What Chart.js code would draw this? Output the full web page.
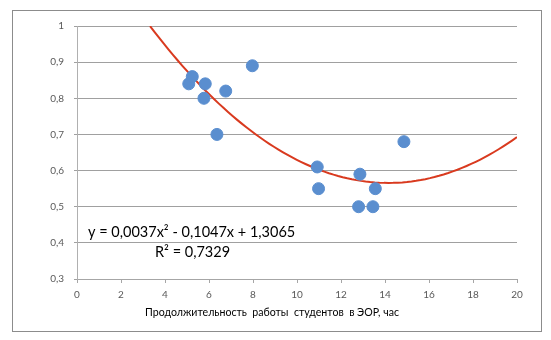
<!DOCTYPE html>
<html><head><meta charset="utf-8">
<script src="https://cdn.jsdelivr.net/npm/chart.js@4/dist/chart.umd.min.js"></script>
<style>html,body{margin:0;padding:0;background:#fff}#wrap{width:551px;height:340px;position:relative}</style>
</head><body><div id="wrap"><canvas id="c" width="551" height="340"></canvas></div>
<script>
const hoursX = [5.08, 5.24, 5.83, 5.77, 6.76, 7.97, 6.36, 10.92, 10.98, 12.86, 13.56, 12.80, 13.45, 14.86];
const scoreY = [0.84, 0.86, 0.84, 0.80, 0.82, 0.89, 0.70, 0.61, 0.55, 0.59, 0.55, 0.50, 0.50, 0.68];
const trendCoef = [0.0037, -0.1047, 1.3065];
const trendStartX = 3.32, trendEndX = 20;
const xTicks = [0, 2, 4, 6, 8, 10, 12, 14, 16, 18, 20];
const yTicks = [0.3, 0.4, 0.5, 0.6, 0.7, 0.8, 0.9, 1];
const eqText = 'y = 0,0037x² - 0,1047x + 1,3065';
const r2Text = 'R² = 0,7329';
const xTitle = 'Продолжительность  работы  студентов  в ЭОР, час';

const pts = hoursX.map((x, i) => ({x, y: scoreY[i]}));
const trend = [];
for (let k = 0; k <= 80; k++) {
  const x = trendStartX + (trendEndX - trendStartX) * k / 80;
  trend.push({x, y: trendCoef[0]*x*x + trendCoef[1]*x + trendCoef[2]});
}
const FONT = 'Lato, "Open Sans", sans-serif';

const deco = {
  id: 'deco',
  afterDraw(chart) {
    const ctx = chart.ctx;
    ctx.save();
    ctx.strokeStyle = '#8c8c8c';
    ctx.lineWidth = 1;
    ctx.strokeRect(12.5, 10.5, 529, 321);
    ctx.fillStyle = '#000';
    ctx.font = '10.6px ' + FONT;
    ctx.textAlign = 'center';
    ctx.textBaseline = 'middle';
    ctx.fillText(xTitle, 272, 313);
    ctx.font = '14.5px ' + FONT;
    ctx.textAlign = 'left';
    ctx.fillText(eqText, 88, 232);
    ctx.fillText(r2Text, 155, 252);
    ctx.restore();
  }
};

new Chart(document.getElementById('c'), {
  type: 'scatter',
  data: {
    datasets: [
      { data: trend, type: 'line', showLine: true, borderColor: '#d93a1f', borderWidth: 2,
        pointRadius: 0, fill: false, tension: 0, order: 1 },
      { data: pts, backgroundColor: '#5a8ecf', borderColor: '#5a8ecf', pointRadius: 6, pointHoverRadius: 6, order: 0 }
    ]
  },
  options: {
    responsive: false, animation: false, devicePixelRatio: 1,
    layout: { padding: { left: 12, right: 34, top: 26, bottom: 0 } },
    plugins: { legend: { display: false }, tooltip: { enabled: false } },
    scales: {
      x: {
        type: 'linear', min: 0, max: 20,
        afterFit(s) { s.height = 61; },
        afterBuildTicks(s) { s.ticks = xTicks.map(v => ({value: v})); },
        border: { color: '#a6a6a6' },
        grid: { drawOnChartArea: false, color: '#a6a6a6', tickLength: 4 },
        ticks: { color: '#595959', font: { size: 10, family: FONT }, padding: 6, maxRotation: 0 }
      },
      y: {
        type: 'linear', min: 0.3, max: 1,
        afterFit(s) { s.width = 65; },
        afterBuildTicks(s) { s.ticks = yTicks.map(v => ({value: v})); },
        border: { color: '#b0b0b0' },
        grid: { color: '#a0a0a0', tickLength: 3 },
        ticks: { color: '#595959', font: { size: 10, family: FONT }, padding: 10,
          callback: v => String(Math.round(v*10)/10).replace('.', ',') }
      }
    }
  },
  plugins: [deco]
});
</script></body></html>
